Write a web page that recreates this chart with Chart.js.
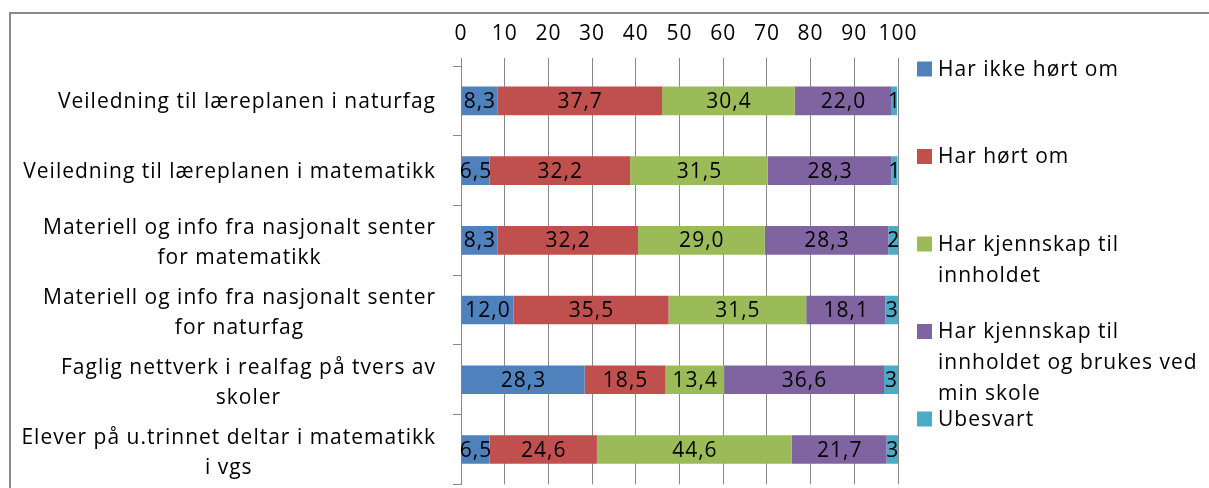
<!DOCTYPE html>
<html>
<head>
<meta charset="utf-8">
<script src="https://cdn.jsdelivr.net/npm/chart.js@4/dist/chart.umd.min.js"></script>
<style>
  html, body { margin: 0; padding: 0; background: #fff; overflow: hidden; }
  #wrap { width: 1209px; height: 500px; position: relative; }
</style>
</head>
<body>
<div id="wrap"><canvas id="chart" width="1209" height="500"></canvas></div>
<script>
// Categories (multi-line labels are given as arrays of lines)
const categories = [
  "Veiledning til læreplanen i naturfag",
  "Veiledning til læreplanen i matematikk",
  ["Materiell og info fra nasjonalt senter", "for matematikk"],
  ["Materiell og info fra nasjonalt senter", "for naturfag"],
  ["Faglig nettverk i realfag på tvers av", "skoler"],
  ["Elever på u.trinnet deltar i matematikk", "i vgs"]
];

// Series names (legend entries, split into wrapped lines)
const seriesNames = [
  ["Har ikke hørt om"],
  ["Har hørt om"],
  ["Har kjennskap til", "innholdet"],
  ["Har kjennskap til", "innholdet og brukes ved", "min skole"],
  ["Ubesvart"]
];

// Percentages per series
const harIkkeHortOm   = [8.3, 6.5, 8.3, 12.0, 28.3, 6.5];
const harHortOm       = [37.7, 32.2, 32.2, 35.5, 18.5, 24.6];
const harKjennskap    = [30.4, 31.5, 29.0, 31.5, 13.4, 44.6];
const kjennskapBrukes = [22.0, 28.3, 28.3, 18.1, 36.6, 21.7];
const ubesvart        = [1.4, 1.4, 2.2, 2.9, 3.2, 2.6];

// Tick values for the percentage axis
const xTicks = [0, 10, 20, 30, 40, 50, 60, 70, 80, 90, 100];

const seriesValues = [harIkkeHortOm, harHortOm, harKjennskap, kjennskapBrukes, ubesvart];
const seriesColors = ["#4F81BD", "#C0504D", "#9BBB59", "#8064A2", "#4BACC6"];
const seriesDecimals = [1, 1, 1, 1, 0];

const FONT = "'Open Sans', sans-serif";
const FS = 21;
const SPACING = "1px";

// Outer frame around the chart object; also sets the text tracking used by all labels
const framePlugin = {
  id: "frame",
  beforeDraw(chart) {
    const ctx = chart.ctx;
    ctx.save();
    ctx.strokeStyle = "#8a8a8a";
    ctx.lineWidth = 2;
    ctx.strokeRect(10, 13, 1400, 700);
    ctx.restore();
    ctx.letterSpacing = SPACING;
  }
};

// Value labels centred on each bar segment
const valueLabels = {
  id: "valueLabels",
  afterDatasetsDraw(chart) {
    const ctx = chart.ctx;
    ctx.save();
    ctx.letterSpacing = SPACING;
    ctx.font = FS + "px " + FONT;
    ctx.fillStyle = "#000";
    ctx.textAlign = "center";
    ctx.textBaseline = "middle";
    chart.data.datasets.forEach((ds, i) => {
      const meta = chart.getDatasetMeta(i);
      meta.data.forEach((el, j) => {
        const v = ds.data[j];
        const txt = v.toFixed(seriesDecimals[i]).replace(".", ",");
        ctx.fillText(txt, (el.x + el.base) / 2 + 0.5, el.y + 1);
      });
    });
    ctx.restore();
  }
};

// Category labels: each block right-aligned, its lines centred on each other
const categoryLabels = {
  id: "categoryLabels",
  afterDraw(chart) {
    const ctx = chart.ctx;
    const yScale = chart.scales.y;
    ctx.save();
    ctx.letterSpacing = SPACING;
    ctx.font = FS + "px " + FONT;
    ctx.fillStyle = "#000";
    ctx.textAlign = "center";
    ctx.textBaseline = "middle";
    const rightEdge = yScale.right - 25;
    const lh = 30;
    chart.data.labels.forEach((lab, i) => {
      const lines = Array.isArray(lab) ? lab : [lab];
      const w = Math.max(...lines.map(l => ctx.measureText(l).width));
      const cx = rightEdge - w / 2;
      const cy = yScale.getPixelForTick(i) + (lines.length > 1 ? 2 : 0);
      const top = cy - (lines.length - 1) * lh / 2;
      lines.forEach((l, k) => ctx.fillText(l, cx, top + k * lh + 1));
    });
    ctx.restore();
  }
};

// Legend at the right with wrapped entries
const sideLegend = {
  id: "sideLegend",
  afterDraw(chart) {
    const ctx = chart.ctx;
    ctx.save();
    ctx.letterSpacing = SPACING;
    ctx.font = FS + "px " + FONT;
    ctx.textAlign = "left";
    ctx.textBaseline = "middle";
    const x0 = 917, y0 = 69, step = 87.5, lh = 31;
    chart.data.datasets.forEach((ds, i) => {
      const y = y0 + i * step;
      ctx.fillStyle = ds.backgroundColor;
      ctx.fillRect(x0, y - 7.5, 15, 15);
      ctx.fillStyle = "#000";
      seriesNames[i].forEach((line, k) => ctx.fillText(line, x0 + 21, y + k * lh + 1));
    });
    ctx.restore();
  }
};

new Chart(document.getElementById("chart"), {
  type: "bar",
  data: {
    labels: categories,
    datasets: seriesValues.map((vals, i) => ({
      label: seriesNames[i].join(" "),
      data: vals,
      backgroundColor: seriesColors[i],
      borderWidth: 0,
      categoryPercentage: 1,
      barPercentage: 0.41
    }))
  },
  options: {
    indexAxis: "y",
    responsive: false,
    animation: false,
    events: [],
    layout: { padding: { left: 0, right: 311, top: 0, bottom: 8 } },
    plugins: { legend: { display: false }, tooltip: { enabled: false } },
    scales: {
      x: {
        position: "top",
        stacked: true,
        min: 0,
        max: 100,
        afterBuildTicks(scale) { scale.ticks = xTicks.map(v => ({ value: v })); },
        afterFit(scale) { scale.height = 66; },
        ticks: { color: "#000", font: { family: FONT, size: FS }, padding: 11, maxRotation: 0 },
        grid: { color: "#888", lineWidth: 1, drawTicks: true, tickLength: 8 },
        border: { display: false }
      },
      y: {
        stacked: true,
        afterFit(scale) { scale.width = 461; },
        ticks: { color: "rgba(0,0,0,0)", font: { family: FONT, size: FS } },
        grid: { drawOnChartArea: false, drawTicks: true, tickLength: 8, color: "#888", offset: true },
        border: { display: true, color: "#888" }
      }
    }
  },
  plugins: [framePlugin, valueLabels, categoryLabels, sideLegend]
});
</script>
</body>
</html>
